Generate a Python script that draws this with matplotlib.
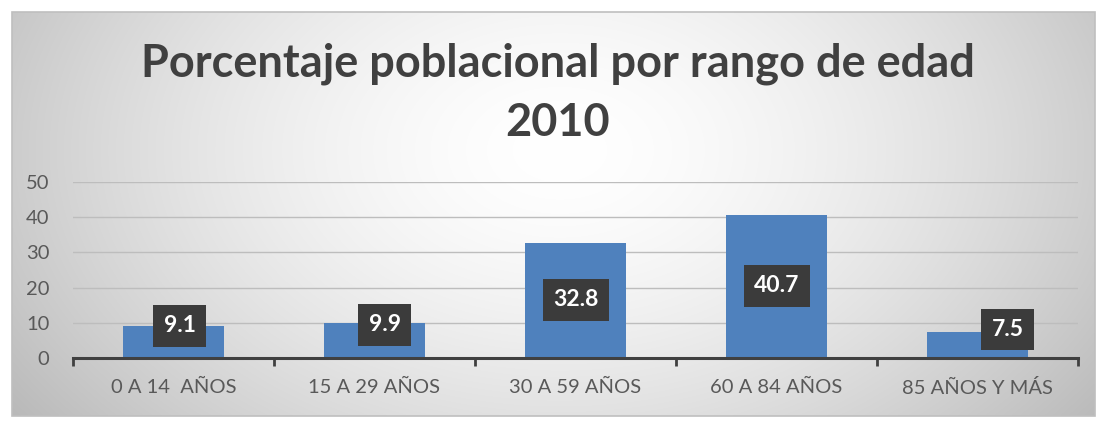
import numpy as np
import matplotlib.pyplot as plt
from matplotlib.patches import Rectangle

rangos = ["0 A 14  AÑOS", "15 A 29 AÑOS", "30 A 59 AÑOS", "60 A 84 AÑOS", "85 AÑOS Y MÁS"]
porcentajes = [9.1, 9.9, 32.8, 40.7, 7.5]
titulo = ["Porcentaje poblacional por rango de edad", "2010"]

plt.rcParams['font.family'] = ['Lato', 'DejaVu Sans']

fig = plt.figure(figsize=(10.98, 4.21), dpi=100)
W, H = 1098, 421

# fondo con degradado radial dentro del marco del grafico
bg = fig.add_axes([0, 0, 1, 1], zorder=-10)
bg.set_xlim(0, W)
bg.set_ylim(H, 0)
bg.axis('off')
x0, x1, y0, y1 = 12, 1095, 12, 416
xx, yy = np.meshgrid(np.linspace(x0, x1, 400), np.linspace(y0, y1, 160))
d = np.sqrt(((xx - 560) / 620) ** 2 + ((yy - 150) / 420) ** 2)
g = 1.0 - 0.24 * np.clip(d, 0, 1.2) ** 1.6
img = np.dstack([g, g, g])
bg.imshow(img, extent=[x0, x1, y1, y0], aspect='auto', interpolation='bilinear')
bg.add_patch(Rectangle((x0, y0), x1 - x0, y1 - y0, fill=False, edgecolor='#bfbfbf', lw=1.2))

ax = fig.add_axes([73 / W, 1 - 358 / H, (1078 - 73) / W, (358 - 182) / H])
ax.patch.set_alpha(0)
x = np.arange(len(rangos))
ax.bar(x, porcentajes, width=0.5, color='#4f81bd', zorder=2)

ax.set_xlim(-0.5, len(rangos) - 0.5)
ax.set_ylim(0, 50)
ax.set_yticks(range(0, 51, 10))
ax.grid(axis='y', color='#bdbdbd', lw=1, zorder=0)
for s in ['top', 'right', 'left']:
    ax.spines[s].set_visible(False)
ax.spines['bottom'].set_color('#404040')
ax.spines['bottom'].set_linewidth(2.2)
ax.spines['bottom'].set_zorder(3)

ax.set_xticks(x)
ax.set_xticklabels(rangos)
ax.set_xticks(np.arange(-0.5, len(rangos), 1), minor=True)
ax.tick_params(axis='x', which='major', length=0, pad=15, labelsize=14.5, labelcolor='#595959')
ax.tick_params(axis='x', which='minor', length=6, width=2, color='#404040', direction='out')
ax.tick_params(axis='y', length=0, pad=17, labelsize=14.5, labelcolor='#595959')
for t in ax.get_yticklabels():
    t.set_horizontalalignment('right')

# posiciones de las etiquetas (desplazadas como en el original)
dx = [0.03, 0.05, 0.0, 0.0, 0.15]
ys = [9.1, 9.4, 16.5, 20.5, 8.1]
for i, v in enumerate(porcentajes):
    ax.text(x[i] + dx[i], ys[i], f"{v}", ha='center', va='center', color='white',
            fontsize=16.5, fontweight='bold', zorder=5,
            bbox=dict(boxstyle='square,pad=0.45', facecolor='#3b3b3b', edgecolor='none'))

fig.text(0.508, 1 - 64 / H, titulo[0], ha='center', va='center', fontsize=32.5,
         fontweight='bold', color='#404040')
fig.text(0.508, 1 - 123 / H, titulo[1], ha='center', va='center', fontsize=32.5,
         fontweight='bold', color='#404040')

fig.savefig('out.png', dpi=100)
